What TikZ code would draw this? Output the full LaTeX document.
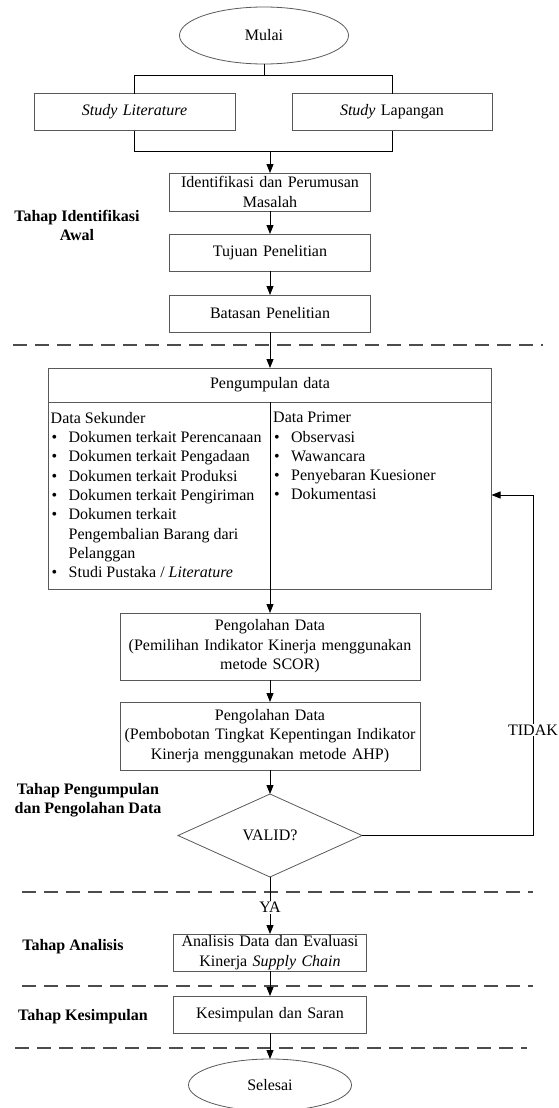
\documentclass[tikz,border=0pt]{standalone}
\usepackage{fontspec}
\setmainfont{Liberation Serif}
\usetikzlibrary{shapes.geometric,arrows.meta,positioning,calc}

\newcommand{\butir}{\makebox[18pt][l]{\hspace{1pt}\textbullet}}
\newcommand{\lanjut}{\hspace*{18pt}}

\begin{document}
\begin{tikzpicture}[x=1pt, y=-1pt, node distance=24pt,
    font=\fontsize{16}{19.5}\selectfont]
\tikzset{
    %Define standard arrow tip
    >={Triangle[length=9pt,width=7pt]},
    %Define style for boxes
    kotak/.style={
           rectangle,
           draw=black!65, line width=0.8pt,
           inner xsep=3pt, inner ysep=0pt, outer sep=0pt,
           minimum height=37pt,
           align=center},
    % Define style for start and end
    ujung/.style={
           ellipse,
           draw=black!65, line width=0.8pt,
           inner sep=0pt, outer sep=0pt},
    % Define arrow style
    panah/.style={
           ->,
           line width=0.8pt},
    garis/.style={
           line width=1.2pt, black!70,
           dash pattern=on 14pt off 8pt},
    tahap/.style={
           font=\fontsize{16}{19}\selectfont\bfseries,
           align=center},
    kolom/.style={
           anchor=north west, inner sep=0pt,
           align=left, font=\fontsize{16}{19.3}\selectfont}
}
\useasboundingbox (0,0) rectangle (558,1108);
 %stage borders
 \draw[garis] (13,345) -- (543,345);
 \draw[garis] (22,892) -- (533,892);
 \draw[garis] (22,986) -- (533,986);
 \draw[garis] (15,1048) -- (527,1048);
 %nodes
 \node[ujung, minimum width=169pt, minimum height=57pt] (mulai) at (264,35.5) {Mulai};
 \node[kotak, text width=195pt] (litera) at (134.5,112) {\textit{Study Literature}};
 \node[kotak, text width=194pt] (lapang) at (392,112) {\textit{Study} Lapangan};
 \node[kotak, text width=195pt, minimum height=38pt] (ident) at (270,192)
   {Identifikasi dan Perumusan\\Masalah};
 \node[kotak, text width=195pt, below=23pt of ident] (tujuan) {Tujuan Penelitian};
 \node[kotak, text width=195pt, below=of tujuan] (batas) {Batasan Penelitian};
 \node[kotak, text width=437pt, minimum height=34pt, below=36pt of batas]
 (kumpul) {Pengumpulan data};
 \node[kotak, text width=437pt, minimum height=187pt, below=0pt of kumpul] (isi) {};
 \node[kolom] (sekunder) at ([xshift=2pt,yshift=-10pt]isi.north west)
   {Data Sekunder\\
    \butir Dokumen terkait Perencanaan\\
    \butir Dokumen terkait Pengadaan\\
    \butir Dokumen terkait Produksi\\
    \butir Dokumen terkait Pengiriman\\
    \butir Dokumen terkait\\
    \lanjut Pengembalian Barang dari\\
    \lanjut Pelanggan\\
    \butir Studi Pustaka / \textit{Literature}};
 \node[kolom] (primer) at ([xshift=3pt,yshift=-10pt]isi.north)
   {Data Primer\\
    \butir Observasi\\
    \butir Wawancara\\
    \butir Penyebaran Kuesioner\\
    \butir Dokumentasi};
 \node[kotak, text width=294pt, minimum height=67pt, below=of isi]
 (olah1) {Pengolahan Data\\(Pemilihan Indikator Kinerja menggunakan\\metode SCOR)};
 \node[kotak, text width=294pt, minimum height=68pt, below=22pt of olah1]
 (olah2) {Pengolahan Data\\(Pembobotan Tingkat Kepentingan Indikator\\Kinerja menggunakan metode AHP)};
 \node[diamond, draw=black!65, line width=0.8pt, inner sep=0pt, outer sep=0pt,
   minimum width=184pt, minimum height=83pt, below=of olah2] (valid) {VALID?};
 \node[kotak, text width=187pt, below=57pt of valid]
 (analisis) {Analisis Data dan Evaluasi\\Kinerja \textit{Supply Chain}};
 \node[kotak, text width=187pt, below=25pt of analisis] (simpul) {Kesimpulan dan Saran};
 \node[ujung, minimum width=163pt, minimum height=52pt, below=26pt of simpul] (selesai) {Selesai};
 % stage names on the left
 \node[tahap] (tahap1) at (77,225.5) {Tahap Identifikasi\\Awal};
 \node[tahap] (tahap2) at (88,800) {Tahap Pengumpulan\\dan Pengolahan Data};
 \node[tahap] (tahap3) at (73,947) {Tahap Analisis};
 \node[tahap] (tahap4) at (83,1017) {Tahap Kesimpulan};
 %connectors
 \coordinate (cabang) at (264,75);
 \coordinate (gabung) at (270,151);
 \draw[line width=0.8pt] (mulai) -- (cabang);
 \draw[line width=0.8pt] (litera.north) -- (litera.north |- cabang)
   -- (lapang.north |- cabang) -- (lapang.north);
 \draw[line width=0.8pt] (litera.south) -- (litera.south |- gabung)
   -- (lapang.south |- gabung) -- (lapang.south);
 \draw[panah] (gabung) -- (ident);
 \draw[panah] (ident) -- (tujuan);
 \draw[panah] (tujuan) -- (batas);
 \draw[panah] (batas) -- (kumpul);
 \draw[panah] (isi.north) -- (olah1); % also splits the two columns
 \draw[panah] (olah1) -- (olah2);
 \draw[panah] (olah2) -- (valid);
 \draw[panah] (valid) -- node[pos=0.53, fill=white, inner sep=1pt] {YA} (analisis);
 \draw[panah] (analisis) -- (simpul);
 \draw[panah] (simpul) -- (selesai);
 \coordinate (sudut) at (533,495);
 \draw[panah] (valid.east) -| node[pos=0.655, fill=white, inner sep=1pt] {TIDAK} (sudut)
   -- (isi.east |- sudut);
\end{tikzpicture}
\end{document}
